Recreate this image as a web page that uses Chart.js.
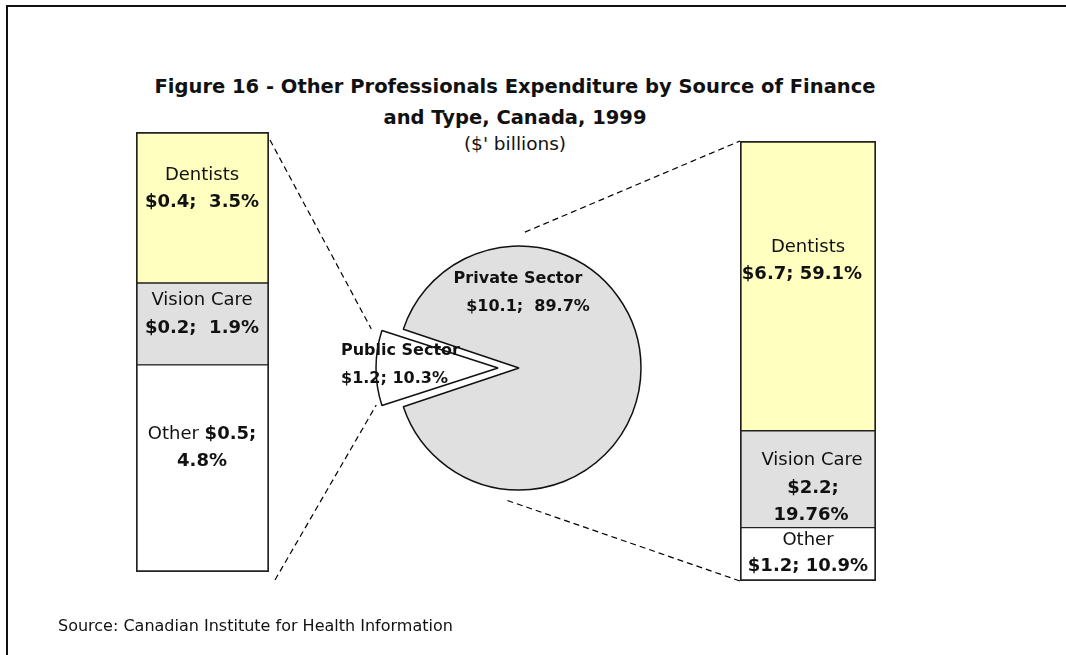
<!DOCTYPE html>
<html>
<head>
<meta charset="utf-8">
<script src="https://cdn.jsdelivr.net/npm/chart.js@4.4.1/dist/chart.umd.min.js"></script>
<style>
    html, body { margin: 0; padding: 0; background: #fff; }
    #wrap { position: relative; width: 1066px; height: 655px; overflow: hidden; background: #fff;
            font-family: "DejaVu Sans", sans-serif; color: #111; }
    #frame { position: absolute; left: 6px; top: 5px; width: 1200px; height: 800px;
             border-left: 2px solid #111; border-top: 2px solid #111; }
    canvas { position: absolute; }
    .lbl { position: absolute; transform: translate(-50%, -50%); white-space: pre; text-align: center; font-size: 18px; }
    .lbl.left { transform: translate(0, -50%); text-align: left; }
    .t { position: absolute; left: 115px; width: 800px; text-align: center; transform: translateY(-50%); }
</style>
</head>
<body>
<div id="wrap">
    <div id="frame"></div>
    <div class="t" style="top:86px;font-weight:bold;font-size:19.5px">Figure 16 - Other Professionals Expenditure by Source of Finance</div>
    <div class="t" style="top:117px;font-weight:bold;font-size:19.5px">and Type, Canada, 1999</div>
    <div class="t" style="top:143px;font-size:18.5px">($' billions)</div>
    <canvas id="leftBar" width="133" height="440" style="left:136px;top:132px"></canvas>
    <canvas id="pie" width="300" height="300" style="left:369px;top:218px"></canvas>
    <canvas id="rightBar" width="136" height="440" style="left:740px;top:141px"></canvas>
    <canvas id="links" width="1066" height="655" style="left:0;top:0"></canvas>
    <div class="t" style="top:625px;left:58px;width:auto;text-align:left;font-size:16px">Source: Canadian Institute for Health Information</div>
</div>
<script>
// types, stacked bottom to top
const typeNames = ['Other', 'Vision Care', 'Dentists'];
const typeColors = ['#ffffff', '#e0e0e0', '#ffffc0'];

const publicAmounts = [0.5, 0.2, 0.4];
const publicShares = [4.8, 1.9, 3.5];
const privateAmounts = [1.2, 2.2, 6.7];
const privateShares = [10.9, 19.76, 59.1];

const sectorNames = ['Public Sector', 'Private Sector'];
const sectorAmounts = [1.2, 10.1];
const sectorShares = [10.3, 89.7];
const sectorColors = ['#ffffff', '#e0e0e0'];

const explode = 84;

function makeBar(id, shares) {
    const total = shares.reduce((a, b) => a + b, 0);
    return new Chart(document.getElementById(id), {
        type: 'bar',
        data: {
            labels: [''],
            datasets: shares.map((v, i) => ({
                label: typeNames[i],
                data: [v],
                backgroundColor: typeColors[i],
                borderColor: '#222',
                borderWidth: { left: 2, right: 2, top: i === shares.length - 1 ? 2 : 1, bottom: i === 0 ? 2 : 1 },
                borderSkipped: false,
                barPercentage: 1,
                categoryPercentage: 1
            }))
        },
        options: {
            responsive: false,
            animation: false,
            events: [],
            layout: { padding: 0 },
            plugins: { legend: { display: false }, tooltip: { enabled: false } },
            scales: {
                x: { stacked: true, display: false },
                y: { stacked: true, display: false, min: 0, max: total }
            }
        }
    });
}

const leftChart = makeBar('leftBar', publicShares);
const rightChart = makeBar('rightBar', privateShares);

const pieChart = new Chart(document.getElementById('pie'), {
    type: 'pie',
    data: {
        labels: sectorNames,
        datasets: [{
            data: sectorShares,
            backgroundColor: sectorColors,
            borderColor: '#111',
            borderWidth: 1.5,
            offset: [explode, 0]
        }]
    },
    options: {
        responsive: false,
        animation: false,
        events: [],
        radius: 122,
        rotation: 270 - sectorShares[0] * 1.8,
        plugins: { legend: { display: false }, tooltip: { enabled: false } }
    },
    plugins: [{
        id: 'keepRadius',
        afterDatasetUpdate(chart) {
            // exploded slice keeps the same radius as the rest of the pie
            const arc = chart.getDatasetMeta(0).data[0];
            arc.outerRadius -= (explode / 4) * (1 - Math.sin(Math.min(Math.PI, arc.circumference)));
        }
    }]
});

// dashed connectors, taken from the drawn elements
const ov = document.getElementById('links').getContext('2d');
ov.setLineDash([6, 4]);
ov.lineWidth = 1.2;
ov.strokeStyle = '#000';
function seg(a, b) {
    ov.beginPath();
    ov.moveTo(a[0], a[1]);
    ov.lineTo(b[0], b[1]);
    ov.stroke();
}
function barBox(chart) {
    const c = chart.canvas;
    const top = chart.getDatasetMeta(2).data[0];
    const bottom = chart.getDatasetMeta(0).data[0];
    return {
        left: c.offsetLeft + top.x - top.width / 2,
        right: c.offsetLeft + top.x + top.width / 2,
        top: c.offsetTop + top.y,
        bottom: c.offsetTop + bottom.base
    };
}
const lb = barBox(leftChart);
const rb = barBox(rightChart);
const pc = pieChart.canvas;
const pub = pieChart.getDatasetMeta(0).data[0];
const cx = pc.offsetLeft + pub.x, cy = pc.offsetTop + pub.y;
const mid = (pub.startAngle + pub.endAngle) / 2;
const ax = cx + Math.cos(mid) * explode / 4, ay = cy + Math.sin(mid) * explode / 4;
const r = pub.outerRadius;
const up = [ax + r * Math.cos(pub.startAngle), ay + r * Math.sin(pub.startAngle)];
const lo = [ax + r * Math.cos(pub.endAngle), ay + r * Math.sin(pub.endAngle)];
const upper = up[1] < lo[1] ? up : lo, lower = up[1] < lo[1] ? lo : up;
seg([lb.right + 1, lb.top + 8], [upper[0] - 19, upper[1] - 3]);
seg([lb.right + 6, lb.bottom + 8], [lower[0] - 14, lower[1] + 1]);
const R = 122;
const a1 = -87.5 * Math.PI / 180, a2 = 95 * Math.PI / 180;
seg([cx + (R + 14) * Math.cos(a1), cy + (R + 14) * Math.sin(a1)], [rb.left, rb.top]);
seg([cx + (R + 11) * Math.cos(a2), cy + (R + 11) * Math.sin(a2)], [rb.left, rb.bottom]);

// text labels
const wrap = document.getElementById('wrap');
function label(html, x, y, style, cls) {
    const d = document.createElement('div');
    d.className = 'lbl' + (cls ? ' ' + cls : '');
    d.innerHTML = html;
    d.style.left = x + 'px';
    d.style.top = y + 'px';
    if (style) d.style.cssText += style;
    wrap.appendChild(d);
}
const money = v => '$' + v.toFixed(1);

label(typeNames[2], 202, 173);
label('<b>' + money(publicAmounts[2]) + ';  ' + publicShares[2] + '%</b>', 202, 200);
label(typeNames[1], 202, 298);
label('<b>' + money(publicAmounts[1]) + ';  ' + publicShares[1] + '%</b>', 202, 326);
label(typeNames[0] + ' <b>' + money(publicAmounts[0]) + ';</b>', 202, 432);
label('<b>' + publicShares[0] + '%</b>', 202, 459);

label(typeNames[2], 808, 245);
label('<b>' + money(privateAmounts[2]) + '; ' + privateShares[2] + '%</b>', 802, 272);
label(typeNames[1], 812, 458);
label('<b>' + money(privateAmounts[1]) + ';</b>', 813, 486);
label('<b>' + privateShares[1] + '%</b>', 811, 513);
label(typeNames[0], 808, 538);
label('<b>' + money(privateAmounts[0]) + '; ' + privateShares[0] + '%</b>', 808, 564);

label('<b>' + sectorNames[1] + '</b>', 518, 277, 'font-size:16px');
label('<b>' + money(sectorAmounts[1]) + ';  ' + sectorShares[1] + '%</b>', 528, 305, 'font-size:16px');
label('<b>' + sectorNames[0] + '</b>', 341, 349, 'font-size:16px', 'left');
label('<b>' + money(sectorAmounts[0]) + '; ' + sectorShares[0] + '%</b>', 341, 377, 'font-size:16px', 'left');
</script>
</body>
</html>
